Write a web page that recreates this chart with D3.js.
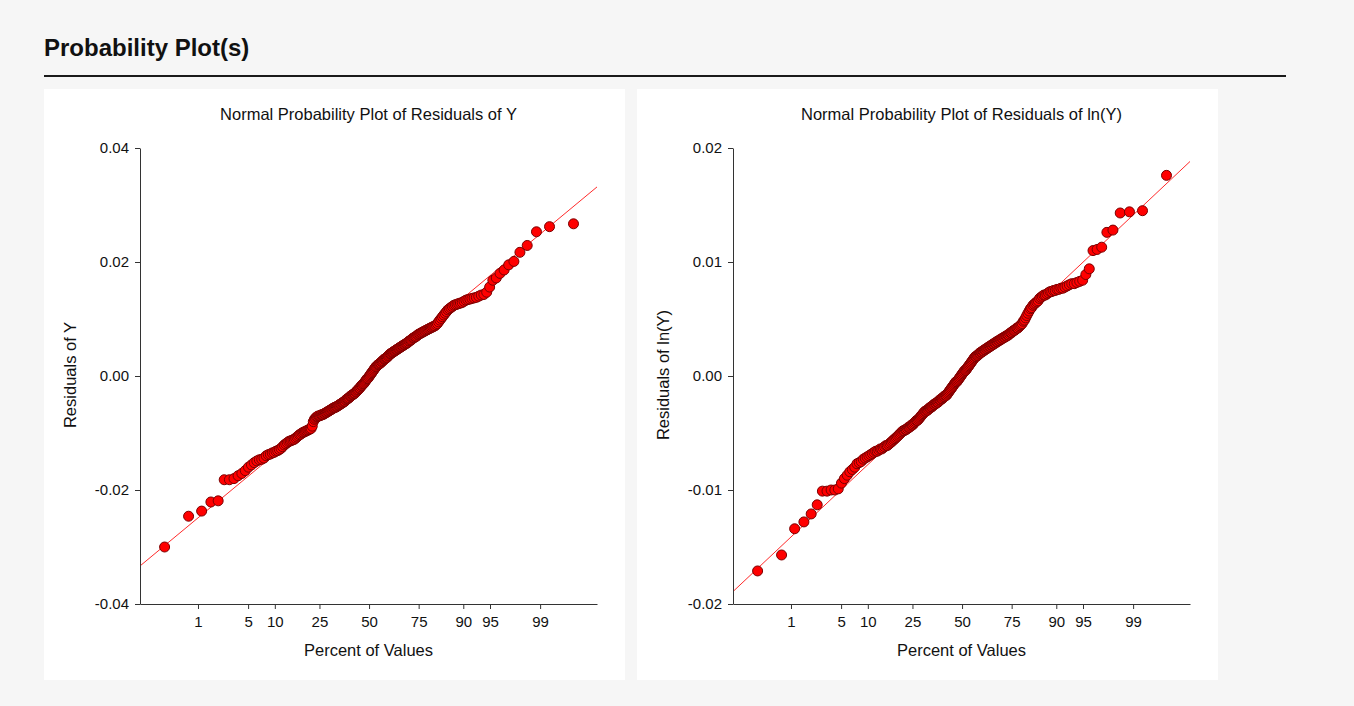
<!DOCTYPE html>
<html>
<head>
<meta charset="utf-8">
<script src="https://cdn.jsdelivr.net/npm/d3@7"></script>
<style>
    body { margin: 0; background: #f6f6f6; font-family: "Liberation Sans", Arial, sans-serif; }
</style>
</head>
<body>
<div id="chart"></div>
<script>
//Data
const percentTicks = [1, 5, 10, 25, 50, 75, 90, 95, 99];
const yTicksY = [-0.04, -0.02, 0.00, 0.02, 0.04];
const yTicksLnY = [-0.02, -0.01, 0.00, 0.01, 0.02];

// residuals (sorted)
const residY = [
    -0.0300, -0.0246, -0.0237, -0.0221, -0.0219, -0.0182, -0.0182, -0.0180, -0.0175, -0.0171,
    -0.0166, -0.0160, -0.0156, -0.0152, -0.0149, -0.0147, -0.0146, -0.0144, -0.0140, -0.0138,
    -0.0137, -0.0135, -0.0134, -0.0132, -0.0131, -0.0129, -0.0127, -0.0124, -0.0121, -0.0119,
    -0.0117, -0.0115, -0.0114, -0.0113, -0.0112, -0.0111, -0.0109, -0.0107, -0.0105, -0.0103,
    -0.0102, -0.0100, -0.0099, -0.0098, -0.0097, -0.0096, -0.0095, -0.0094, -0.0093, -0.0092,
    -0.0088, -0.0080, -0.0076, -0.0074, -0.0072, -0.0071, -0.0070, -0.0070, -0.0069, -0.0068,
    -0.0068, -0.0067, -0.0066, -0.0065, -0.0064, -0.0063, -0.0062, -0.0061, -0.0060, -0.0059,
    -0.0058, -0.0057, -0.0056, -0.0055, -0.0055, -0.0054, -0.0053, -0.0052, -0.0051, -0.0050,
    -0.0049, -0.0048, -0.0047, -0.0046, -0.0045, -0.0044, -0.0042, -0.0041, -0.0040, -0.0039,
    -0.0038, -0.0036, -0.0035, -0.0034, -0.0033, -0.0032, -0.0031, -0.0030, -0.0028, -0.0027,
    -0.0025, -0.0024, -0.0022, -0.0021, -0.0019, -0.0017, -0.0016, -0.0014, -0.0013, -0.0011,
    -0.0009, -0.0007, -0.0005, -0.0004, -0.0002, 0.0000, 0.0002, 0.0004, 0.0006, 0.0008,
    0.0010, 0.0012, 0.0014, 0.0016, 0.0017, 0.0019, 0.0020, 0.0021, 0.0022, 0.0023,
    0.0025, 0.0026, 0.0027, 0.0029, 0.0030, 0.0031, 0.0032, 0.0033, 0.0035, 0.0036,
    0.0038, 0.0039, 0.0040, 0.0041, 0.0042, 0.0043, 0.0044, 0.0045, 0.0046, 0.0047,
    0.0048, 0.0049, 0.0050, 0.0051, 0.0052, 0.0053, 0.0054, 0.0055, 0.0056, 0.0057,
    0.0058, 0.0059, 0.0061, 0.0062, 0.0063, 0.0064, 0.0066, 0.0067, 0.0068, 0.0069,
    0.0070, 0.0072, 0.0073, 0.0074, 0.0075, 0.0076, 0.0077, 0.0078, 0.0079, 0.0080,
    0.0081, 0.0082, 0.0083, 0.0084, 0.0085, 0.0086, 0.0087, 0.0088, 0.0090, 0.0092,
    0.0095, 0.0098, 0.0101, 0.0104, 0.0107, 0.0110, 0.0113, 0.0116, 0.0118, 0.0120,
    0.0122, 0.0124, 0.0125, 0.0126, 0.0127, 0.0128, 0.0129, 0.0131, 0.0133, 0.0134,
    0.0135, 0.0136, 0.0137, 0.0138, 0.0140, 0.0142, 0.0143, 0.0147, 0.0156, 0.0168,
    0.0172, 0.0180, 0.0186, 0.0195, 0.0201, 0.0217, 0.0229, 0.0253, 0.0262, 0.0267
];

const residLnY = [
    -0.0171, -0.0157, -0.0134, -0.0128, -0.0121, -0.0113, -0.0101, -0.0101, -0.0100, -0.0100,
    -0.0099, -0.0094, -0.0090, -0.0087, -0.0084, -0.0082, -0.0080, -0.0077, -0.0076, -0.0075,
    -0.0073, -0.0072, -0.0071, -0.0070, -0.0069, -0.0068, -0.0067, -0.0066, -0.0066, -0.0065,
    -0.0064, -0.0064, -0.0063, -0.0062, -0.0061, -0.0061, -0.0060, -0.0059, -0.0058, -0.0057,
    -0.0056, -0.0055, -0.0054, -0.0053, -0.0052, -0.0051, -0.0050, -0.0049, -0.0048, -0.0048,
    -0.0047, -0.0047, -0.0046, -0.0045, -0.0045, -0.0044, -0.0043, -0.0043, -0.0042, -0.0041,
    -0.0040, -0.0039, -0.0039, -0.0038, -0.0037, -0.0036, -0.0035, -0.0034, -0.0033, -0.0032,
    -0.0031, -0.0031, -0.0030, -0.0030, -0.0029, -0.0028, -0.0028, -0.0027, -0.0027, -0.0026,
    -0.0025, -0.0025, -0.0024, -0.0024, -0.0023, -0.0023, -0.0022, -0.0021, -0.0021, -0.0020,
    -0.0020, -0.0019, -0.0018, -0.0018, -0.0017, -0.0017, -0.0016, -0.0015, -0.0014, -0.0013,
    -0.0012, -0.0011, -0.0010, -0.0009, -0.0008, -0.0007, -0.0006, -0.0005, -0.0005, -0.0004,
    -0.0003, -0.0002, -0.0001, 0.0000, 0.0001, 0.0002, 0.0003, 0.0004, 0.0005, 0.0005,
    0.0006, 0.0007, 0.0008, 0.0009, 0.0010, 0.0011, 0.0012, 0.0013, 0.0014, 0.0015,
    0.0016, 0.0017, 0.0017, 0.0018, 0.0018, 0.0019, 0.0020, 0.0020, 0.0021, 0.0021,
    0.0022, 0.0022, 0.0023, 0.0023, 0.0024, 0.0024, 0.0025, 0.0025, 0.0026, 0.0026,
    0.0027, 0.0027, 0.0028, 0.0028, 0.0029, 0.0029, 0.0030, 0.0030, 0.0031, 0.0031,
    0.0032, 0.0032, 0.0033, 0.0033, 0.0034, 0.0034, 0.0035, 0.0035, 0.0036, 0.0036,
    0.0037, 0.0038, 0.0038, 0.0039, 0.0040, 0.0040, 0.0041, 0.0042, 0.0042, 0.0043,
    0.0044, 0.0045, 0.0046, 0.0048, 0.0049, 0.0051, 0.0053, 0.0055, 0.0057, 0.0059,
    0.0060, 0.0062, 0.0063, 0.0064, 0.0065, 0.0066, 0.0068, 0.0069, 0.0070, 0.0071,
    0.0071, 0.0072, 0.0073, 0.0074, 0.0074, 0.0075, 0.0075, 0.0076, 0.0076, 0.0077,
    0.0077, 0.0078, 0.0079, 0.0080, 0.0081, 0.0081, 0.0082, 0.0083, 0.0084, 0.0089,
    0.0094, 0.0110, 0.0111, 0.0113, 0.0126, 0.0128, 0.0143, 0.0144, 0.0145, 0.0176
];

// reference line: [intercept, slope per normal score]
const refLineY = [0.0000, 0.0107];
const refLineLnY = [0.0000, 0.00607];

//Normal quantile (Acklam approximation)
function probit(p) {
    const a = [-39.69683028665376, 220.9460984245205, -275.9285104469687, 138.3577518672690, -30.66479806614716, 2.506628277459239];
    const b = [-54.47609879822406, 161.5858368580409, -155.6989798598866, 66.80131188771884, -13.28068155288572];
    const c = [-0.007784894002430293, -0.3223964580411365, -2.400758277161838, -2.549671043138700, 4.374664141464968, 2.938163982698783];
    const d = [0.007784695709041462, 0.3224671290700398, 2.445134137142996, 3.754408661907416];
    const plow = 0.02425;
    if (p < plow) {
        const q = Math.sqrt(-2 * Math.log(p));
        return (((((c[0] * q + c[1]) * q + c[2]) * q + c[3]) * q + c[4]) * q + c[5]) /
            ((((d[0] * q + d[1]) * q + d[2]) * q + d[3]) * q + 1);
    }
    if (p > 1 - plow) return -probit(1 - p);
    const q = p - 0.5, r = q * q;
    return (((((a[0] * r + a[1]) * r + a[2]) * r + a[3]) * r + a[4]) * r + a[5]) * q /
        (((((b[0] * r + b[1]) * r + b[2]) * r + b[3]) * r + b[4]) * r + 1);
}

// Blom plotting positions
function prepareData(values) {
    const n = values.length;
    return values.slice().sort((a, b) => a - b)
        .map((v, i) => ({ z: probit((i + 1 - 0.375) / (n + 0.25)), value: v }));
}

//Canvas
const svg_width = 1354;
const svg_height = 706;
const svg = d3.select('#chart').append('svg')
    .attr('width', svg_width).attr('height', svg_height);

svg.append('rect').attr('width', svg_width).attr('height', svg_height).attr('fill', '#f6f6f6');

svg.append('text')
    .attr('x', 44).attr('y', 56)
    .style('font-size', '24px').style('font-weight', 'bold').style('fill', '#111')
    .text('Probability Plot(s)');

svg.append('rect')
    .attr('x', 44).attr('y', 75).attr('width', 1242).attr('height', 2)
    .attr('fill', '#1a1a1a');

function drawPlot(left, title, yLabel, values, yTicks, refLine, clipId) {
    const panel = { top: 89, width: 581, height: 591 };
    const plot = { left: left + 96, right: left + 553, top: 148, bottom: 604 };

    svg.append('rect')
        .attr('x', left).attr('y', panel.top)
        .attr('width', panel.width).attr('height', panel.height)
        .attr('fill', '#fff');

    const data = prepareData(values);
    const xScale = d3.scaleLinear().domain([-3.115, 3.10]).range([plot.left, plot.right]);
    const yScale = d3.scaleLinear().domain(d3.extent(yTicks)).range([plot.bottom, plot.top]);

    //clip for the reference line
    svg.append('clipPath').attr('id', clipId)
        .append('rect')
        .attr('x', plot.left).attr('y', plot.top)
        .attr('width', plot.right - plot.left).attr('height', plot.bottom - plot.top);

    const zExtent = xScale.domain();
    svg.append('line')
        .attr('clip-path', `url(#${clipId})`)
        .attr('x1', xScale(zExtent[0])).attr('y1', yScale(refLine[0] + refLine[1] * zExtent[0]))
        .attr('x2', xScale(zExtent[1])).attr('y2', yScale(refLine[0] + refLine[1] * zExtent[1]))
        .attr('stroke', '#ff2a2a').attr('stroke-width', 1);

    //points
    svg.append('g').selectAll('circle').data(data).enter()
        .append('circle')
        .attr('cx', d => xScale(d.z))
        .attr('cy', d => yScale(d.value))
        .attr('r', 5)
        .attr('fill', '#ff0000')
        .attr('stroke', '#7a0000')
        .attr('stroke-width', 1);

    //axes
    const xAxis = d3.axisBottom(xScale)
        .tickValues(percentTicks.map(p => probit(p / 100)))
        .tickFormat((d, i) => percentTicks[i])
        .tickSize(5).tickSizeOuter(0).tickPadding(7);
    const xAxisDraw = svg.append('g')
        .attr('transform', `translate(0,${plot.bottom})`)
        .call(xAxis);

    const yAxis = d3.axisLeft(yScale)
        .tickValues(yTicks)
        .tickFormat(d => d.toFixed(2))
        .tickSize(5).tickSizeOuter(0).tickPadding(6);
    const yAxisDraw = svg.append('g')
        .attr('transform', `translate(${plot.left},0)`)
        .call(yAxis);

    [xAxisDraw, yAxisDraw].forEach(ax => {
        ax.select('.domain').attr('stroke', '#333');
        ax.selectAll('.tick line').attr('stroke', '#333');
        ax.selectAll('text')
            .style('font-family', '"Liberation Sans", Arial, sans-serif')
            .style('font-size', '15px').style('fill', '#111');
    });

    //titles
    const cx = (plot.left + plot.right) / 2;
    svg.append('text')
        .attr('x', cx).attr('y', 120)
        .attr('text-anchor', 'middle')
        .style('font-size', '16.5px').style('fill', '#111')
        .text(title);

    svg.append('text')
        .attr('x', cx).attr('y', 656)
        .attr('text-anchor', 'middle')
        .style('font-size', '16.5px').style('fill', '#111')
        .text('Percent of Values');

    svg.append('text')
        .attr('transform', `translate(${left + 32},375) rotate(-90)`)
        .attr('text-anchor', 'middle')
        .style('font-size', '16.5px').style('fill', '#111')
        .text(yLabel);
}

drawPlot(44, 'Normal Probability Plot of Residuals of Y', 'Residuals of Y', residY, yTicksY, refLineY, 'clipY');
drawPlot(637, 'Normal Probability Plot of Residuals of ln(Y)', 'Residuals of ln(Y)', residLnY, yTicksLnY, refLineLnY, 'clipLnY');
</script>
</body>
</html>
